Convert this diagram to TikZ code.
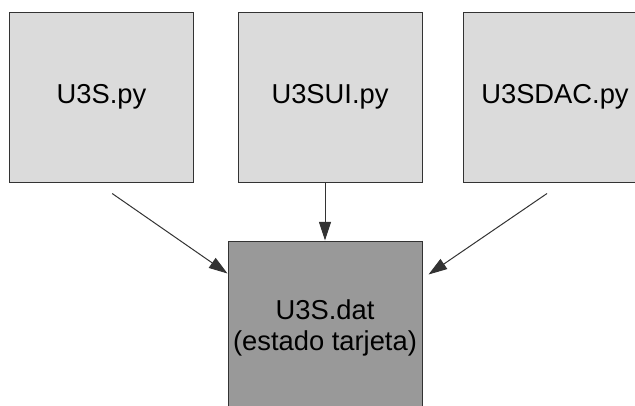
\documentclass[tikz,border=0pt]{standalone}
\usepackage{fontspec}
\setmainfont{Liberation Sans}
\usetikzlibrary{arrows.meta}

\begin{document}
\begin{tikzpicture}[x=0.75pt, y=-0.75pt,
  module/.style={draw=black!80, line width=0.75pt, fill=black!14,
    minimum width=138pt, minimum height=127.5pt, inner sep=0pt,
    align=center, font=\fontsize{20.5}{23.4}\selectfont},
  state/.style={module, fill=black!40, minimum width=145.5pt, minimum height=130.5pt},
  flow/.style={draw=black!80, line width=0.75pt, -{Triangle[length=14pt, width=9pt]}}]

  \clip (0,0) rectangle (635,405);

  % Scripts
  \node[module] (u3s)    at (101.5,97) {U3S.py};
  \node[module] (u3sui)  at (330,97)   {U3SUI.py};
  \node[module] (u3sdac) at (555,97)   {U3SDAC.py};

  % Shared state file
  \node[state] (dat) at (325,328) {U3S.dat\\(estado tarjeta)};

  % Each script writes the state file
  \draw[flow] ([xshift=8pt, yshift=-8.25pt]u3s.south) -- ([yshift=-24.75pt]dat.north west);
  \draw[flow] (u3sui.south -| dat.north) -- (dat.north);
  \draw[flow] ([xshift=-6pt, yshift=-8.25pt]u3sdac.south) -- ([xshift=4.5pt, yshift=-25.5pt]dat.north east);

\end{tikzpicture}
\end{document}
